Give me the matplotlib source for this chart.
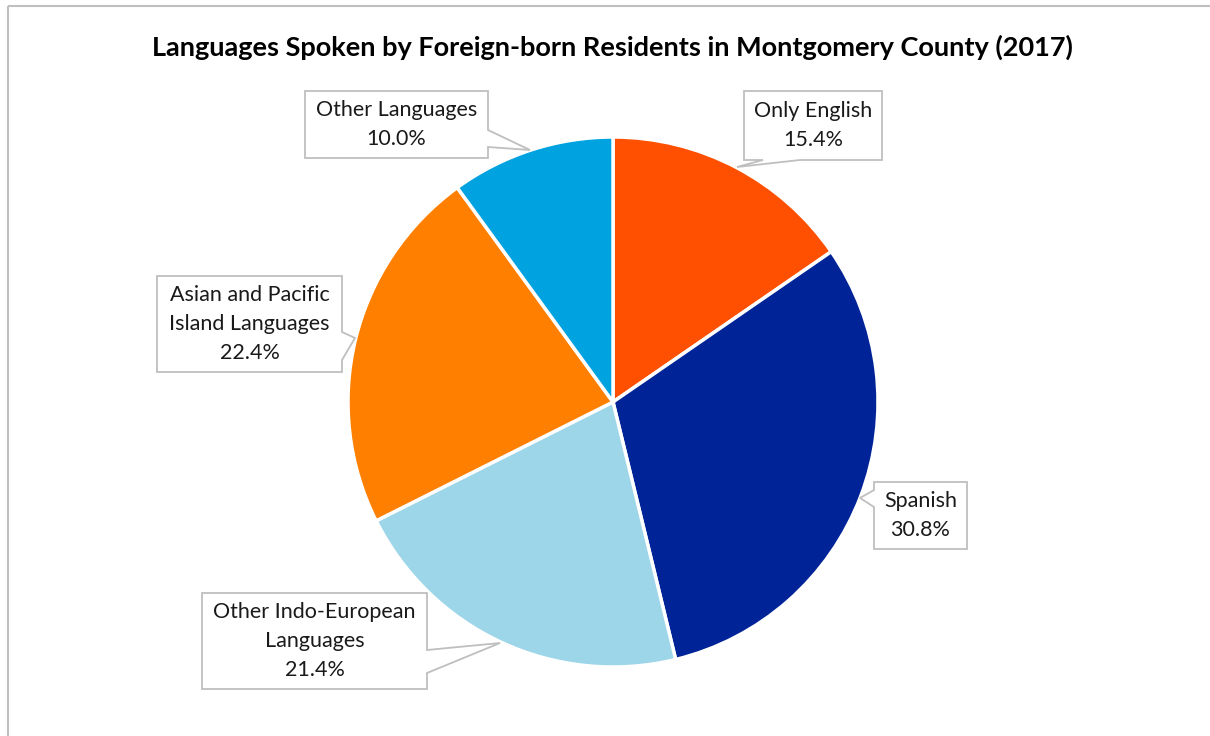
import matplotlib.pyplot as plt
from matplotlib.patches import Polygon

# data
labels = ["Only English", "Spanish", "Other Indo-European\nLanguages",
          "Asian and Pacific\nIsland Languages", "Other Languages"]
shares = [15.4, 30.8, 21.4, 22.4, 10.0]
colors = ["#FF4F00", "#002397", "#9DD5E9", "#FF8000", "#00A2E0"]

W, H = 1210, 736

# callout layout in pixel coords (y down): box outline with pointer
callouts = [
    [(744, 91), (882, 91), (882, 160), (800, 160), (737, 167), (763, 160), (744, 160)],
    [(874, 482), (967, 482), (967, 549), (874, 549), (874, 507), (860, 498), (874, 490)],
    [(202, 593), (427, 593), (427, 650), (500, 643), (427, 673), (427, 689), (202, 689)],
    [(157, 276), (342, 276), (342, 332), (355, 338), (342, 360), (342, 372), (157, 372)],
    [(305, 91), (488, 91), (488, 130), (530, 150), (488, 147), (488, 158), (305, 158)],
]
boxes = [(744, 91, 882, 160), (874, 482, 967, 549), (202, 593, 427, 689),
         (157, 276, 342, 372), (305, 91, 488, 158)]

plt.rcParams["font.family"] = ["Lato", "DejaVu Sans"]

fig = plt.figure(figsize=(W / 100, H / 100), dpi=100, facecolor="white")
ax = fig.add_axes([0, 0, 1, 1])

ax.pie(shares, colors=colors, startangle=90, counterclock=False,
       center=(613, H - 402), radius=265,
       wedgeprops=dict(edgecolor="white", linewidth=2.5))

for pts, box, lab, val in zip(callouts, boxes, labels, shares):
    poly = Polygon([(x, H - y) for x, y in pts], closed=True,
                   facecolor="white", edgecolor="#BFBFBF", linewidth=1.3, zorder=3)
    ax.add_patch(poly)
    cx = (box[0] + box[2]) / 2
    cy = H - (box[1] + box[3]) / 2
    ax.text(cx, cy, f"{lab}\n{val:.1f}%", ha="center", va="center",
            fontsize=15.5, color="#1a1a1a", linespacing=1.55, zorder=4)

ax.text(612, H - 47, "Languages Spoken by Foreign-born Residents in Montgomery County (2017)",
        ha="center", va="center", fontsize=19.5, fontweight="bold", color="black")

# chart area border (only top and left visible)
ax.plot([8, 8], [0, H - 5.5], color="#BFBFBF", lw=1.5, solid_capstyle="butt")
ax.plot([8, W], [H - 5.5, H - 5.5], color="#BFBFBF", lw=1.5, solid_capstyle="butt")

ax.set_xlim(0, W)
ax.set_ylim(0, H)
ax.set_aspect("equal")
ax.axis("off")

fig.savefig("out.png", dpi=100, facecolor="white")
